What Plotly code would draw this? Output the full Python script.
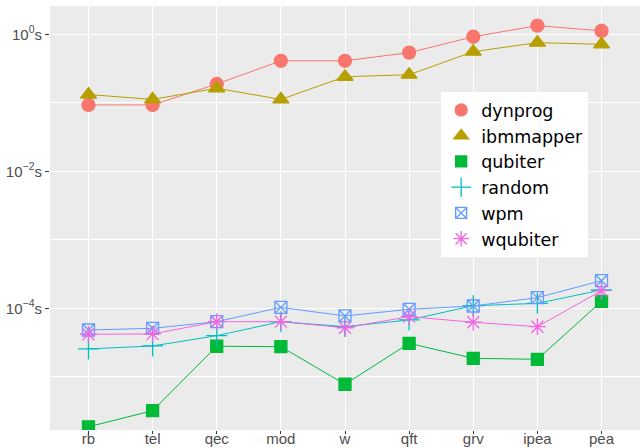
import plotly.graph_objects as go

categories = ["rb", "tel", "qec", "mod", "w", "qft", "grv", "ipea", "pea"]

dynprog = [0.093, 0.093, 0.188, 0.41, 0.41, 0.54, 0.92, 1.34, 1.12]
ibmmapper = [0.132, 0.112, 0.163, 0.112, 0.24, 0.257, 0.557, 0.755, 0.714]
qubiter = [1.86e-6, 3.2e-6, 2.79e-5, 2.75e-5, 7.78e-6, 3.08e-5, 1.86e-5, 1.8e-5, 1.26e-4]
random_ = [2.55e-5, 2.82e-5, 3.98e-5, 6.37e-5, 5.4e-5, 6.75e-5, 1.09e-4, 1.18e-4, 1.85e-4]
wpm = [4.82e-5, 5.1e-5, 6.37e-5, 1.03e-4, 7.73e-5, 9.66e-5, 1.08e-4, 1.43e-4, 2.53e-4]
wqubiter = [4.18e-5, 4.22e-5, 6.37e-5, 6.37e-5, 5.2e-5, 7.55e-5, 6.25e-5, 5.38e-5, 1.81e-4]

series = [
    ("dynprog", dynprog, "#F8766D", "circle", 13),
    ("ibmmapper", ibmmapper, "#B79F00", "triangle-up", 14),
    ("qubiter", qubiter, "#00BA38", "square", 12),
    ("random", random_, "#00BFC4", "cross-thin-open", 15),
    ("wpm", wpm, "#619CFF", "square-x-open", 12),
    ("wqubiter", wqubiter, "#F564E3", "asterisk-open", 14),
]

ytickvals = [1, 1e-2, 1e-4]
yticktext = ["10<sup>0</sup>s", "10<sup>\u22122</sup>s", "10<sup>\u22124</sup>s"]
yminor = [1e-1, 1e-3, 1e-5]

fig = go.Figure()
for name, vals, color, sym, size in series:
    fig.add_trace(go.Scatter(
        x=categories, y=vals, mode="lines+markers", name=name,
        line=dict(color=color, width=1),
        marker=dict(color=color, symbol=sym, size=size, line=dict(color=color, width=1.3)),
        showlegend=False, cliponaxis=True,
    ))
for name, vals, color, sym, size in series:
    fig.add_trace(go.Scatter(
        x=[None], y=[None], mode="markers", name=name,
        marker=dict(color=color, symbol=sym, size=size - 1, line=dict(color=color, width=1.3)),
        showlegend=True,
    ))

fig.update_layout(
    width=642, height=448,
    margin=dict(l=50, r=2, t=6, b=18),
    paper_bgcolor="white", plot_bgcolor="#EBEBEB",
    font=dict(family="Liberation Sans, Arial, sans-serif", color="#4D4D4D", size=15),
    legend=dict(x=0.663, y=0.797, xanchor="left", yanchor="top",
                bgcolor="white", font=dict(size=17.5, color="black", family="DejaVu Sans"),
                itemwidth=30, tracegroupgap=0),
)
fig.update_xaxes(
    type="category", range=[-0.6, 8.6], showgrid=True, gridcolor="white", gridwidth=1.1,
    ticks="outside", ticklen=3, tickcolor="#333333", tickwidth=1, zeroline=False,
    showline=False, tickfont=dict(size=15, color="#4D4D4D"), automargin=False,
    ticklabelstandoff=-8,
)
fig.update_yaxes(
    type="log", range=[-5.777, 0.413], tickvals=ytickvals, ticktext=yticktext,
    showgrid=True, gridcolor="white", gridwidth=1.1, zeroline=False, showline=False,
    ticks="outside", ticklen=4, tickcolor="#333333", tickwidth=1,
    tickfont=dict(size=15, color="#4D4D4D"), automargin=False,
    minor=dict(tickvals=yminor, showgrid=True, gridcolor="white", gridwidth=0.5, ticks=""),
)

fig.write_html("out.html", config={"displayModeBar": False},
               post_script="document.body.style.margin='0';document.body.style.overflow='hidden';")
